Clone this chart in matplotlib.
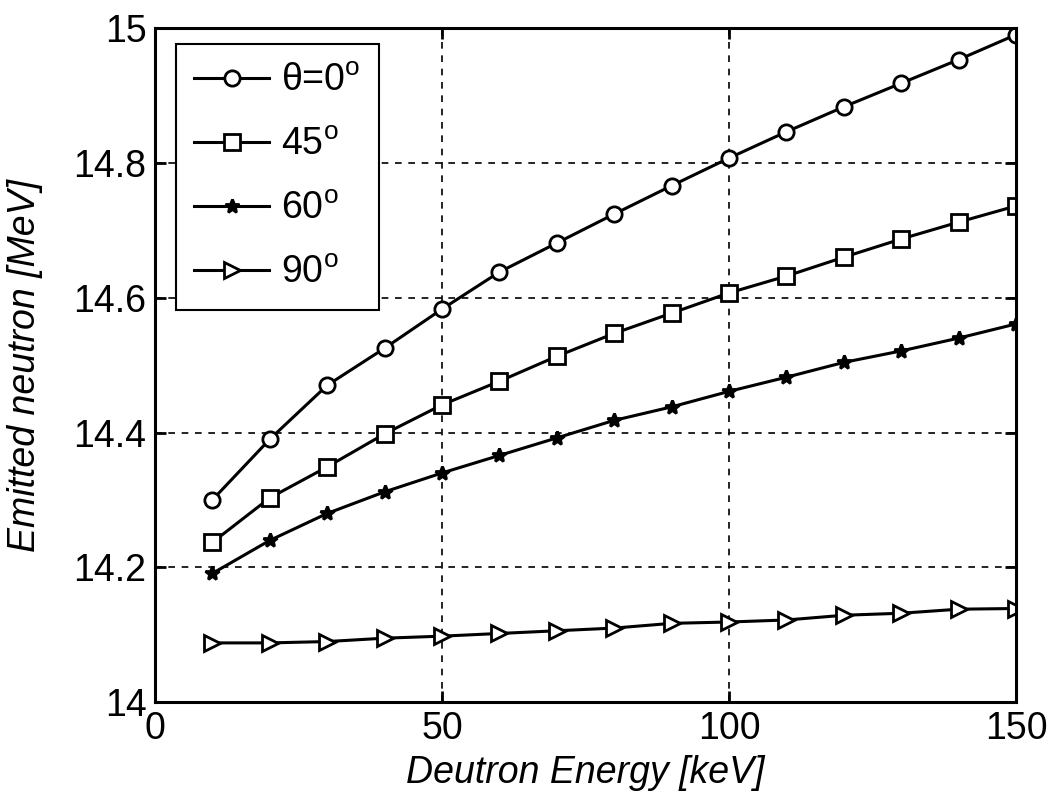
import matplotlib
matplotlib.use("Agg")
import matplotlib.pyplot as plt

plt.rcParams['font.family'] = ['Liberation Sans', 'DejaVu Sans']
plt.rcParams['mathtext.fontset'] = 'custom'
plt.rcParams['mathtext.rm'] = 'Liberation Sans'

energy = [10, 20, 30, 40, 50, 60, 70, 80, 90, 100, 110, 120, 130, 140, 150]
theta0 = [14.300, 14.390, 14.470, 14.525, 14.583, 14.638, 14.681, 14.724, 14.766,
          14.807, 14.846, 14.883, 14.918, 14.953, 14.990]
theta45 = [14.237, 14.303, 14.349, 14.398, 14.441, 14.476, 14.513, 14.547, 14.577,
           14.607, 14.632, 14.660, 14.687, 14.712, 14.736]
theta60 = [14.191, 14.240, 14.280, 14.312, 14.340, 14.366, 14.392, 14.418, 14.438,
           14.461, 14.482, 14.504, 14.521, 14.540, 14.561]
theta90 = [14.088, 14.088, 14.090, 14.095, 14.098, 14.102, 14.106, 14.110, 14.117,
           14.119, 14.122, 14.129, 14.132, 14.138, 14.139]

labels = [r'θ=0$^\mathregular{o}$', r'45$^\mathregular{o}$', r'60$^\mathregular{o}$', r'90$^\mathregular{o}$']
series = [theta0, theta45, theta60, theta90]
markers = ['o', 's', '*', '>']
msizes = [11, 11, 10, 11]

fig = plt.figure(figsize=(10.54, 7.98), dpi=100)
ax = fig.add_axes([0.147, 0.120, 0.817, 0.845])

for y, lab, m, ms in zip(series, labels, markers, msizes):
    ax.plot(energy, y, color='black', linewidth=2.2, marker=m, markersize=ms,
            markerfacecolor='white' if m != '*' else 'black', markeredgecolor='black',
            markeredgewidth=2, label=lab)

ax.set_xlim(0, 150)
ax.set_ylim(14, 15)
ax.set_xticks([0, 50, 100, 150])
ax.set_yticks([14, 14.2, 14.4, 14.6, 14.8, 15])
ax.set_yticklabels(['14', '14.2', '14.4', '14.6', '14.8', '15'])
ax.grid(True, color='black', linestyle=(0, (4, 4)), linewidth=1.2)
ax.tick_params(direction='in', length=8, width=2, labelsize=27, top=True, right=True, pad=6)
for s in ax.spines.values():
    s.set_linewidth(2.2)

ax.set_xlabel('Deutron Energy [keV]', fontsize=27, style='italic', labelpad=6)
ax.set_ylabel('Emitted neutron [MeV]', fontsize=27, style='italic', labelpad=22)

leg = ax.legend(loc='upper left', bbox_to_anchor=(0.024, 0.976), borderaxespad=0,
                fontsize=27, fancybox=False, edgecolor='black', framealpha=1,
                handlelength=2.0, handletextpad=0.3, labelspacing=0.75,
                borderpad=0.5)
leg.get_frame().set_linewidth(1.5)

plt.savefig('out.png', dpi=100)
plt.close()
